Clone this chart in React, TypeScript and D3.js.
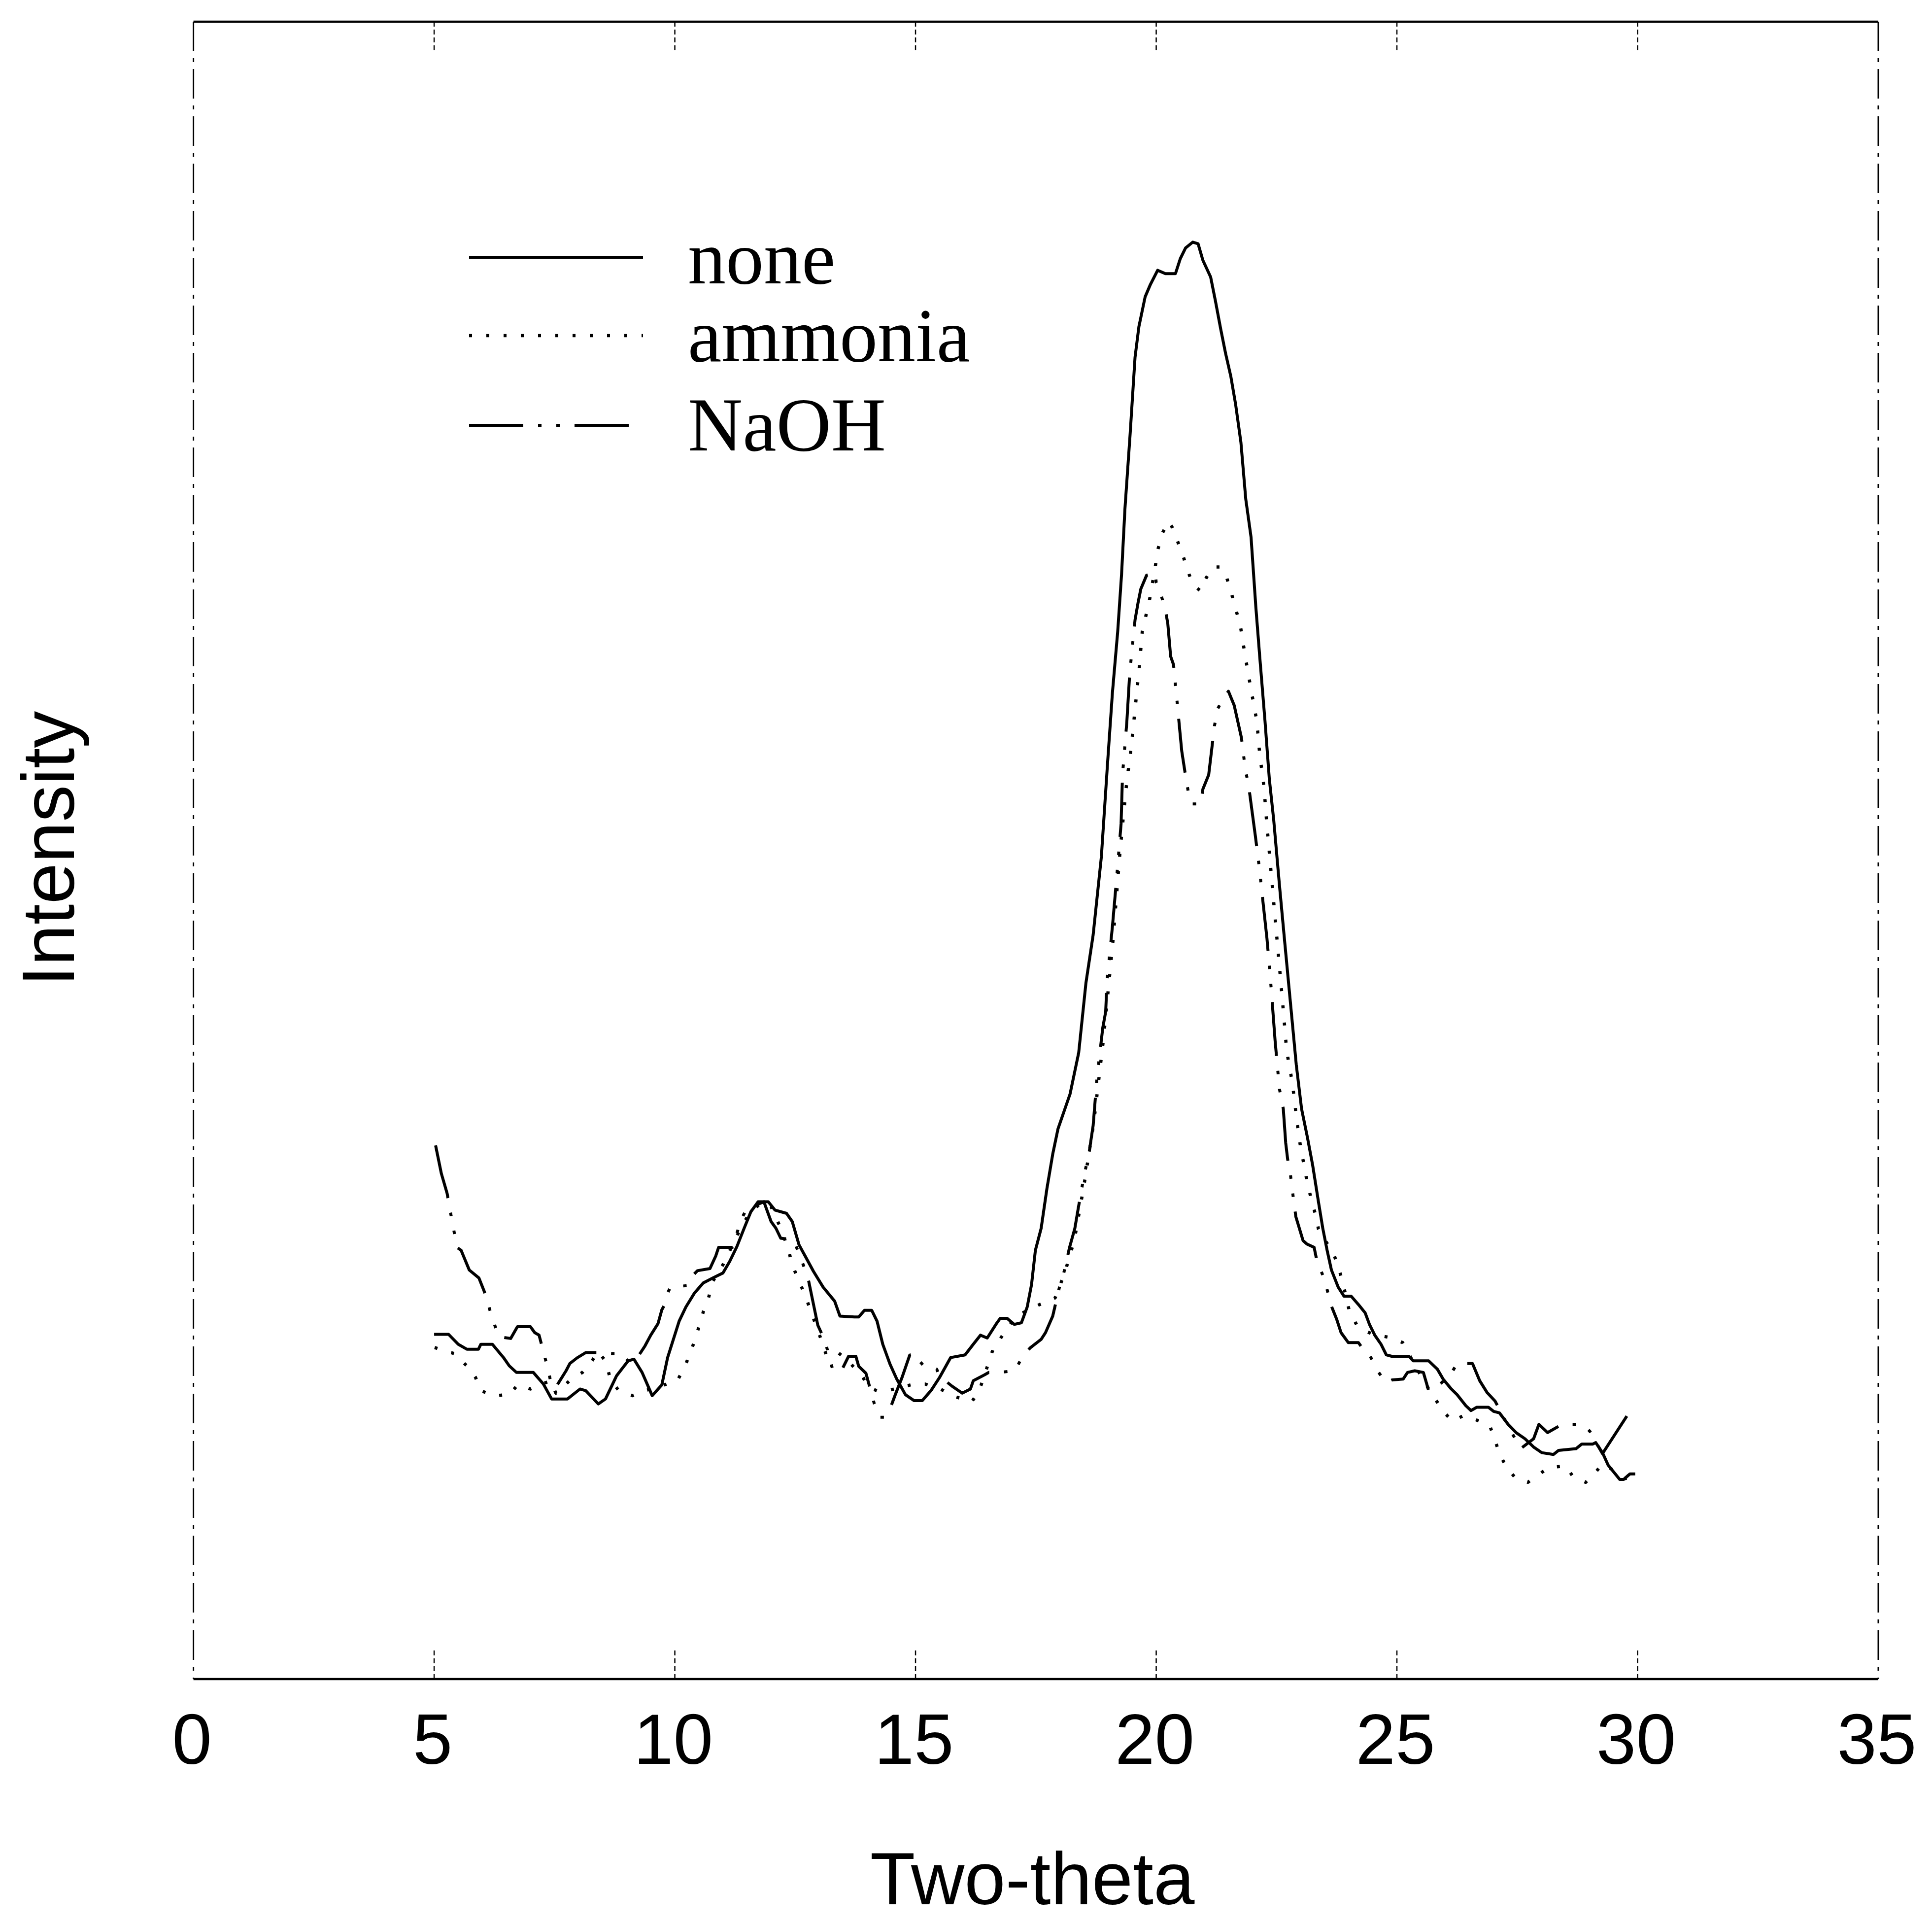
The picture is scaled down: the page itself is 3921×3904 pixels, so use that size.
import React from "react";
import * as d3 from "d3";

// ---- data (two-theta, relative intensity 0-1000) ----
const xTicks = [0, 5, 10, 15, 20, 25, 30, 35];
const innerTicks = [5, 10, 15, 20, 25, 30];

const noneData: [number, number][] = [
  [5.0, 208], [5.3, 208], [5.5, 202], [5.68, 199], [5.92, 199], [5.97, 202], [6.21, 202], [6.44, 194],
  [6.56, 189], [6.71, 185], [7.06, 185], [7.27, 178], [7.44, 169], [7.77, 169], [8.03, 175], [8.15, 174],
  [8.41, 166], [8.56, 169], [8.79, 183], [9.03, 192], [9.15, 193], [9.32, 185], [9.44, 177], [9.53, 171],
  [9.73, 177.5], [9.85, 194], [10.09, 216], [10.23, 224.5], [10.41, 233], [10.59, 239], [10.79, 242],
  [11.0, 245], [11.14, 252], [11.29, 261], [11.44, 272], [11.58, 282], [11.73, 288], [11.94, 288],
  [12.08, 283], [12.32, 281], [12.44, 276], [12.58, 262], [12.73, 254], [12.88, 246], [13.08, 236.5],
  [13.32, 228], [13.43, 219], [13.73, 218.5], [13.82, 218.5], [13.94, 222.5], [14.09, 222.5], [14.2, 216],
  [14.32, 202], [14.47, 190], [14.61, 181], [14.79, 171.6], [14.97, 168], [15.14, 168], [15.32, 174],
  [15.5, 182], [15.73, 194], [16.03, 195.6], [16.2, 202], [16.35, 207.5], [16.49, 205.8], [16.67, 214],
  [16.76, 217.7], [16.9, 217.7], [17.05, 214], [17.2, 215], [17.32, 224.5], [17.41, 238], [17.49, 258.7],
  [17.61, 272], [17.73, 296], [17.85, 316.7], [17.96, 332], [18.21, 353], [18.39, 378], [18.54, 420],
  [18.69, 449], [18.86, 496], [18.99, 553], [19.09, 595], [19.2, 632], [19.28, 666.5], [19.35, 706],
  [19.46, 752], [19.56, 797.5], [19.64, 816], [19.77, 834], [19.88, 841.5], [20.03, 850], [20.19, 848],
  [20.4, 848], [20.5, 857], [20.61, 863.5], [20.76, 867], [20.87, 866], [20.97, 856], [21.13, 846],
  [21.23, 831.5], [21.34, 814.5], [21.44, 800], [21.55, 786], [21.65, 769], [21.76, 746], [21.86, 712],
  [21.97, 689], [22.07, 646.6], [22.15, 617], [22.26, 578], [22.35, 543], [22.44, 518.6], [22.56, 479],
  [22.67, 444.5], [22.79, 407.5], [22.91, 370.5], [23.02, 344], [23.14, 327], [23.25, 310], [23.37, 288],
  [23.46, 272], [23.55, 258.7], [23.64, 246.8], [23.78, 236.5], [23.9, 231], [24.05, 231], [24.2, 226],
  [24.34, 221], [24.43, 214], [24.54, 207.5], [24.67, 202], [24.78, 195.6], [24.9, 194.7], [25.25, 194.7],
  [25.34, 192], [25.66, 192], [25.84, 187], [25.96, 181], [26.13, 175], [26.25, 171.6], [26.43, 165],
  [26.54, 162], [26.66, 164], [26.9, 164], [27.01, 161.5], [27.13, 160.6], [27.31, 153.7], [27.48, 148.6],
  [27.66, 145], [27.84, 140], [28.01, 136.6], [28.25, 135.5], [28.36, 138], [28.72, 139], [28.84, 141.8],
  [29.07, 141.8], [29.13, 142.7], [29.27, 136.6], [29.39, 129], [29.51, 124.7], [29.63, 120.4],
  [29.71, 120.4], [29.84, 123.8], [29.95, 123.8],
];

const ammoniaData: [number, number][] = [
  [5.01, 200], [5.27, 197.6], [5.42, 196.4], [5.49, 194], [5.69, 188.7], [5.86, 182], [5.97, 174],
  [6.24, 171], [6.56, 171.6], [6.74, 177.6], [7.0, 175], [7.41, 180], [7.53, 172.5], [7.85, 181],
  [8.08, 185], [8.26, 191], [8.4, 197.6], [8.56, 192], [8.67, 180], [8.84, 174], [9.12, 171], [9.38, 174],
  [9.79, 177.6], [10.05, 180], [10.2, 188], [10.31, 196], [10.41, 204], [10.5, 212.6], [10.59, 221.5],
  [10.7, 230], [10.79, 240], [11.0, 250], [11.2, 262], [11.4, 274], [11.6, 283], [11.85, 288], [12.0, 285],
  [12.2, 272], [12.35, 260], [12.44, 250], [12.55, 242], [12.7, 232], [12.85, 220], [13.05, 204],
  [13.14, 196], [13.35, 198], [13.6, 192], [13.91, 182], [14.02, 176], [14.2, 174], [14.41, 174],
  [14.7, 176], [14.97, 178], [15.2, 178], [15.52, 175], [15.76, 171], [15.97, 169], [16.17, 167.4],
  [16.32, 173.7], [16.52, 191], [16.61, 199], [16.79, 206.6], [17.08, 219], [17.3, 222], [17.58, 226],
  [17.9, 230], [18.1, 245], [18.3, 265], [18.5, 298], [18.7, 335], [18.9, 385], [19.1, 445], [19.25, 500],
  [19.39, 542], [19.48, 562], [19.65, 611], [19.71, 632], [19.86, 651], [19.98, 671], [20.03, 681],
  [20.12, 691], [20.26, 698.5], [20.33, 695], [20.45, 686], [20.56, 677.5], [20.65, 669], [20.77, 660],
  [20.92, 656.6], [21.03, 664], [21.18, 671], [21.33, 671], [21.47, 664], [21.56, 655.4], [21.65, 645.6],
  [21.74, 637], [21.85, 617], [21.97, 597], [22.09, 578], [22.15, 558], [22.24, 538], [22.29, 518.6],
  [22.35, 498.7], [22.41, 479], [22.47, 459], [22.53, 439.6], [22.59, 420], [22.65, 400], [22.71, 379],
  [22.83, 359.5], [22.91, 339.7], [22.96, 328.7], [23.01, 318.8], [23.08, 309], [23.14, 298.8],
  [23.22, 289.8], [23.31, 280], [23.37, 271.5], [23.5, 265], [23.67, 257.8], [23.78, 249], [23.87, 240],
  [24.02, 221], [24.2, 212], [24.5, 208], [24.87, 206], [25.12, 203], [25.4, 188], [25.66, 175],
  [25.81, 168.3], [25.99, 160.6], [26.16, 155.5], [26.37, 158.8], [26.6, 157], [26.93, 152.8],
  [27.04, 144], [27.13, 136], [27.28, 127.6], [27.45, 121.8], [27.72, 118.7], [27.92, 123], [28.16, 127.6],
  [28.51, 128.6], [28.66, 122], [28.92, 118.7], [29.1, 123.8], [29.27, 129.8], [29.5, 126], [29.75, 121],
  [30.0, 123],
];

const naohData: [number, number][] = [
  [5.03, 322], [5.15, 305], [5.27, 293], [5.33, 283], [5.39, 274], [5.42, 269], [5.47, 260.5],
  [5.56, 258.7], [5.62, 254.5], [5.73, 246.8], [5.93, 242], [6.04, 234], [6.21, 217.7], [6.34, 206.6],
  [6.59, 205.5], [6.73, 212.6], [7.0, 212.6], [7.09, 209], [7.18, 207.5], [7.35, 188.7], [7.45, 176],
  [7.56, 177.6], [7.74, 186], [7.82, 190.4], [7.97, 193.8], [8.15, 197], [8.4, 197], [8.7, 196.4],
  [8.91, 196.4], [9.05, 191], [9.2, 193], [9.38, 201], [9.5, 207.5], [9.65, 214.4], [9.73, 222.8],
  [9.79, 226], [9.85, 233], [9.91, 236.5], [10.26, 237.4], [10.29, 241], [10.47, 246.4], [10.73, 247.7],
  [10.85, 255.3], [10.91, 260.5], [11.2, 260.5], [11.38, 277.5], [11.5, 284], [11.61, 285], [11.85, 288],
  [12.0, 276], [12.1, 272], [12.2, 266], [12.47, 265], [12.6, 255], [12.76, 243], [12.97, 213.5],
  [13.12, 204], [13.26, 188.7], [13.29, 186], [13.46, 186], [13.61, 194.8], [13.76, 194.8], [13.82, 188.7],
  [13.97, 184.5], [14.14, 166.5], [14.26, 158], [14.35, 158], [14.47, 163], [14.58, 171.6], [14.72, 182],
  [14.88, 195.5], [15.0, 196.4], [15.08, 192], [15.2, 188], [15.44, 187], [15.5, 182.7], [15.76, 176.7],
  [15.97, 172.5], [16.14, 175], [16.2, 180], [16.43, 183.5], [16.52, 185], [16.73, 185], [17.07, 186],
  [17.2, 193.6], [17.38, 199.8], [17.61, 205], [17.7, 209], [17.85, 219], [17.99, 236.5], [18.08, 245],
  [18.2, 260.5], [18.31, 272], [18.38, 284], [18.49, 302], [18.61, 318.5], [18.69, 334], [18.77, 363],
  [18.89, 393], [18.95, 402.6], [18.98, 422], [19.09, 454], [19.15, 474], [19.18, 484], [19.27, 516],
  [19.3, 545.6], [19.39, 577.7], [19.45, 607], [19.56, 639], [19.62, 649], [19.68, 657.7], [19.8, 666],
  [19.98, 667.6], [20.0, 661.6], [20.1, 654], [20.18, 646.7], [20.24, 637], [20.3, 617], [20.36, 612],
  [20.44, 587.5], [20.53, 560], [20.62, 543], [20.68, 533], [20.74, 528], [20.92, 528], [20.97, 537],
  [21.09, 545.6], [21.21, 575], [21.27, 585], [21.36, 590], [21.5, 596], [21.62, 587.5], [21.77, 568],
  [21.85, 549], [21.92, 539], [22.06, 508.6], [22.15, 487.6], [22.18, 479], [22.3, 447], [22.36, 427],
  [22.39, 416], [22.47, 385], [22.56, 356], [22.64, 344], [22.69, 323.5], [22.73, 313.7], [22.79, 304],
  [22.83, 294.5], [22.9, 279], [23.05, 264.6], [23.13, 262.5], [23.28, 260.5], [23.34, 252], [23.49, 241.6],
  [23.64, 225], [23.75, 217], [23.84, 209], [23.99, 203], [24.2, 203], [24.28, 199.8], [24.4, 198],
  [24.49, 192], [24.62, 185], [24.78, 178.8], [24.9, 180.5], [25.13, 181], [25.22, 185], [25.37, 186],
  [25.55, 185], [25.6, 180], [25.66, 174], [25.9, 178], [26.13, 184.5], [26.25, 190.4], [26.57, 190.4],
  [26.72, 180], [26.87, 173], [27.04, 167.7], [27.31, 152.7], [27.57, 139], [27.84, 145], [27.95, 153.7],
  [28.13, 148.7], [28.43, 153.7], [28.87, 153.7], [29.01, 149.4], [29.27, 136], [29.86, 162.4],
];

const seriesNames = ["none", "ammonia", "NaOH"];

// ---- layout ----
const W = 3921;
const H = 3904;
const x = d3.scaleLinear().domain([0, 35]).range([392.6, 3812]);
const y = d3.scaleLinear().domain([0, 1000]).range([3407, 44]);

const styles = [
  { dash: undefined as string | undefined, width: 6 },
  { dash: "6 29", width: 6.5 },
  { dash: "110 30 7 30 7 30", width: 6 },
];

const line = d3
  .line<[number, number]>()
  .x((d) => x(d[0]))
  .y((d) => y(d[1]))
  .curve(d3.curveLinear);

const allSeries = [noneData, ammoniaData, naohData];

export default function App() {
  const legendLineY = [522, 681, 863];
  const legendTextY = [575, 733, 914];
  return (
    <svg
      width={W}
      height={H}
      viewBox={`0 0 ${W} ${H}`}
      style={{ position: "absolute", left: 0, top: 0, background: "#fff" }}
    >
      <rect x={0} y={0} width={W} height={H} fill="#fff" />
      {/* frame */}
      <line x1={x(0)} x2={x(35)} y1={y(1000)} y2={y(1000)} stroke="#000" strokeWidth={4.5} />
      <line x1={x(0)} x2={x(35)} y1={y(0)} y2={y(0)} stroke="#000" strokeWidth={4.5} />
      <line x1={x(0)} x2={x(0)} y1={y(1000)} y2={y(0)} stroke="#000" strokeWidth={3} strokeDasharray="60 14 8 14" />
      <line x1={x(35)} x2={x(35)} y1={y(1000)} y2={y(0)} stroke="#000" strokeWidth={3} strokeDasharray="60 14 8 14" />
      {/* ticks */}
      {innerTicks.map((t) => (
        <g key={t}>
          <line x1={x(t)} x2={x(t)} y1={y(0)} y2={y(0) - 62} stroke="#000" strokeWidth={2.5} strokeDasharray="10 6" />
          <line x1={x(t)} x2={x(t)} y1={y(1000)} y2={y(1000) + 62} stroke="#000" strokeWidth={2.5} strokeDasharray="10 6" />
        </g>
      ))}
      {xTicks.map((t) => (
        <text
          key={"l" + t}
          x={x(t) - 3}
          y={3579}
          fontSize={145}
          fontFamily="Liberation Sans, Arial, sans-serif"
          textAnchor="middle"
          fill="#000"
        >
          {t}
        </text>
      ))}
      <text
        x={2095}
        y={3864}
        fontSize={150}
        fontFamily="Liberation Sans, Arial, sans-serif"
        textAnchor="middle"
        fill="#000"
      >
        Two-theta
      </text>
      <text
        transform="translate(150,1722) rotate(-90)"
        fontSize={150}
        fontFamily="Liberation Sans, Arial, sans-serif"
        textAnchor="middle"
        fill="#000"
      >
        Intensity
      </text>
      {/* series */}
      {allSeries.map((s, i) => (
        <path
          key={"s" + i}
          d={line(s) || ""}
          fill="none"
          stroke="#000"
          strokeWidth={styles[i].width}
          strokeDasharray={styles[i].dash}
          strokeLinejoin="round"
        />
      ))}
      {/* legend */}
      {seriesNames.map((name, i) => (
        <g key={"lg" + i}>
          <line
            x1={952}
            x2={1305}
            y1={legendLineY[i]}
            y2={legendLineY[i]}
            stroke="#000"
            strokeWidth={styles[i].width}
            strokeDasharray={styles[i].dash}
          />
          <text
            x={1396}
            y={legendTextY[i]}
            fontSize={154}
            fontFamily="Liberation Serif, Times New Roman, serif"
            fill="#000"
          >
            {name}
          </text>
        </g>
      ))}
    </svg>
  );
}
